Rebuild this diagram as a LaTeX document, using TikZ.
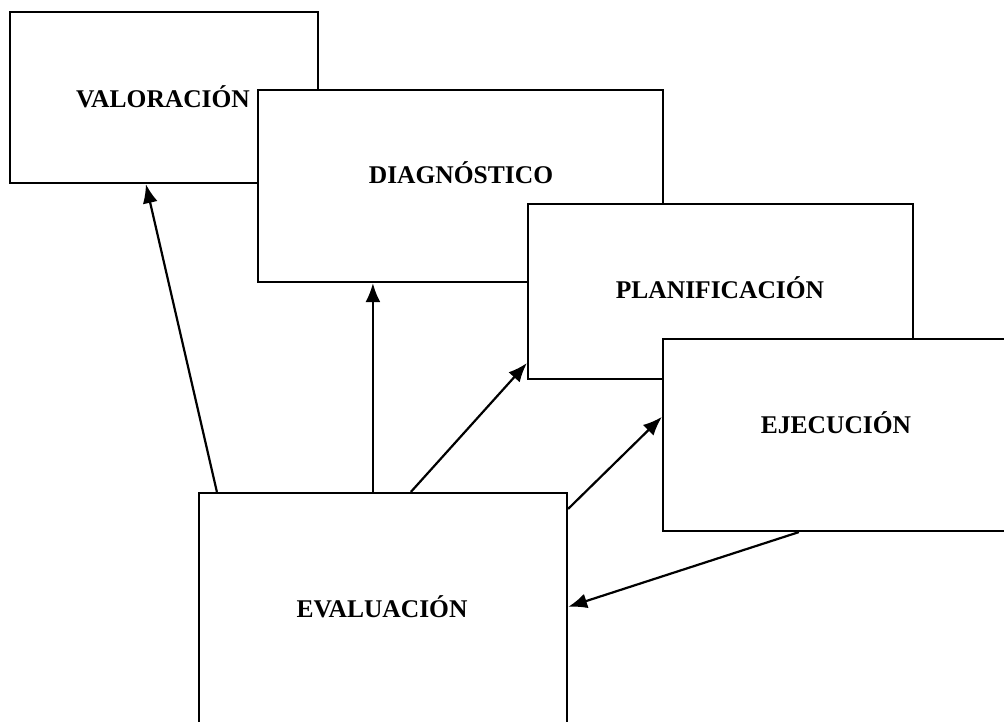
\documentclass[tikz,border=0pt]{standalone}
\usepackage{fontspec}
\setmainfont{Liberation Serif}
\usetikzlibrary{arrows.meta,calc}
\begin{document}
\begin{tikzpicture}[x=1pt,y=-1pt,
  box/.style={draw,fill=white,line width=2.2pt,inner sep=0pt,rectangle},
  lbl/.style={font=\bfseries\fontsize{25.5}{30}\selectfont,inner sep=0pt},
  arr/.style={line width=2.2pt,-{Latex[length=19pt,width=15pt]}}]
\useasboundingbox[fill=white] (0,0) rectangle (1004,722);
% boxes (drawn in stacking order)
\node[box,minimum width=308pt,minimum height=171pt] (valb) at (164,97.5) {};
\node[box,minimum width=405pt,minimum height=192pt] (diab) at (460.5,186) {};
\node[box,minimum width=385pt,minimum height=175pt] (plab) at (720.5,291.5) {};
\node[box,minimum width=351pt,minimum height=192pt] (ejeb) at (838.5,435) {};
\node[box,minimum width=368pt,minimum height=242pt] (evab) at (383,614) {};
% labels
\node[lbl] (valt) at (163,97) {VALORACIÓN};
\node[lbl] (diat) at (461,173) {DIAGNÓSTICO};
\node[lbl] (plat) at (720,288) {PLANIFICACIÓN};
\node[lbl] (ejet) at (836,423) {EJECUCIÓN};
\node[lbl] (evat) at (382,607) {EVALUACIÓN};
% connectors
\draw[arr] ($(evab.north west)+(19,0)$) -- ($(valb.south west)+(137,0)$);
\draw[arr] ($(evab.north west)+(175,0)$) -- ($(diab.south west)+(116,0)$);
\draw[arr] ($(evab.north west)+(213,0)$) -- ($(plab.south west)+(0,-17)$);
\draw[arr] ($(evab.north east)+(0,17)$) -- ($(ejeb.north west)+(0,79)$);
\draw[arr] ($(ejeb.south west)+(137,0)$) -- ($(evab.north east)+(0,115)$);
\end{tikzpicture}
\end{document}
